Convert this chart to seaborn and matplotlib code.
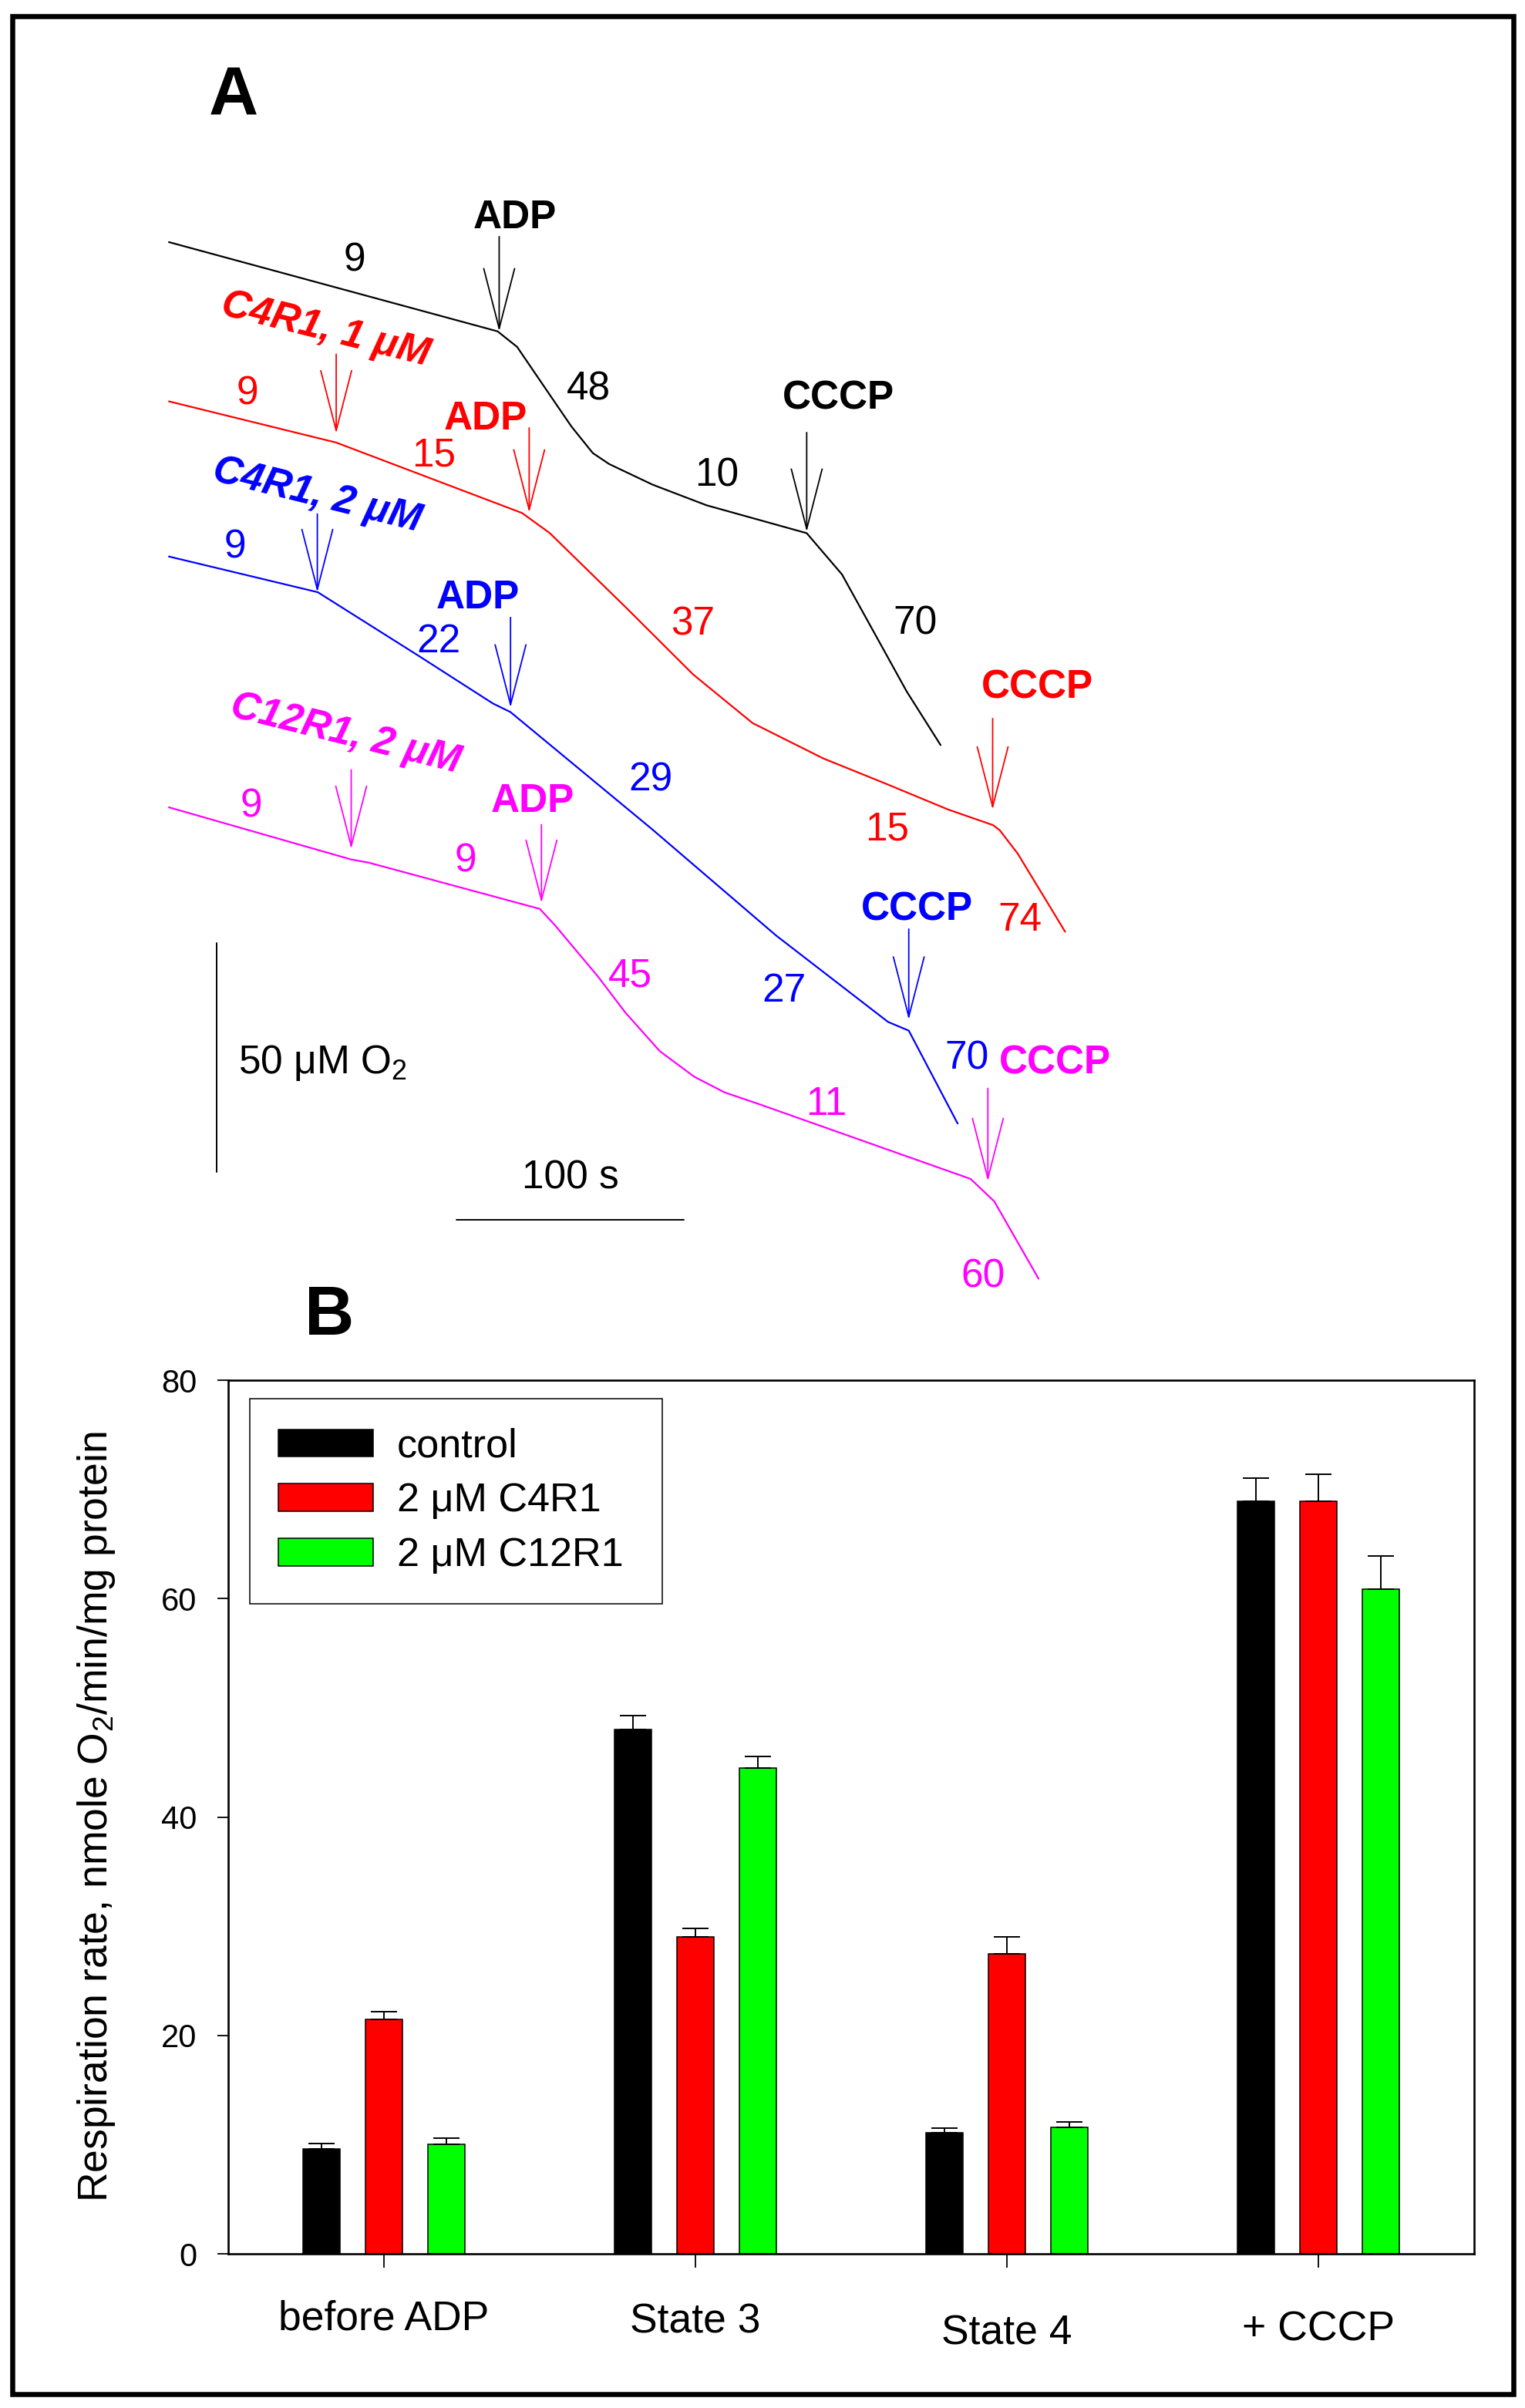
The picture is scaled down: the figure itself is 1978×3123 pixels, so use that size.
import matplotlib
matplotlib.use('Agg')
import matplotlib.pyplot as plt
from matplotlib.patches import Patch, Rectangle
import pandas as pd
import seaborn as sns

# Panel A: oxygen traces, time in s and O2 in uM (traces offset for display)
black_t = [0, 144.6, 153.2, 167.6, 177.1, 186.5, 193.7, 212.8, 236.5, 280.6, 296.1, 324.6, 339.5]
black_o = [215.6, 196.1, 192.7, 182.2, 175.3, 169.5, 167.1, 162.6, 158.1, 152.0, 143.0, 117.4, 105.7]
red_t = [0, 73.6, 155.4, 167.6, 201.4, 230.7, 256.8, 287.8, 315.7, 342.9, 362.6, 365.5, 373.4, 394.3]
red_o = [180.8, 171.8, 156.4, 152.0, 135.6, 121.1, 110.5, 102.8, 97.2, 91.6, 88.2, 87.1, 82.0, 64.9]
blue_t = [0, 65.5, 110.5, 142.5, 150.3, 212.6, 267.1, 316.4, 325.5, 347.0]
blue_o = [146.9, 139.1, 125.0, 114.8, 112.9, 87.3, 64.1, 45.2, 43.3, 23.0]
pink_t = [0, 80.2, 88.0, 163.2, 169.9, 188.8, 200.9, 216.0, 231.2, 244.5, 259.3, 352.7, 363.1, 382.6]
pink_o = [92.1, 80.7, 80.0, 69.9, 66.3, 55.1, 47.2, 38.8, 33.2, 29.8, 27.3, 10.9, 6.0, -10.9]

# respiration rates written next to the traces
black_rates = ['9', '48', '10', '70']
red_rates = ['9', '15', '37', '15', '74']
blue_rates = ['9', '22', '29', '27', '70']
pink_rates = ['9', '9', '45', '11', '60']

# additions: name, time of addition
black_events = [('ADP', 145.3), ('CCCP', 280.6)]
red_events = [('C4R1, 1 μM', 73.6), ('ADP', 158.5), ('CCCP', 362.4)]
blue_events = [('C4R1, 2 μM', 65.3), ('ADP', 150.3), ('CCCP', 325.5)]
pink_events = [('C12R1, 2 μM', 80.2), ('ADP', 163.9), ('CCCP', 360.3)]

# Panel B: mean respiration rates and SEM
states = ['before ADP', 'State 3', 'State 4', '+ CCCP']
treatments = ['control', '2 μM C4R1', '2 μM C12R1']
rate_control = [9.6, 48.0, 11.1, 68.9]
rate_c4r1 = [21.5, 29.0, 27.5, 68.9]
rate_c12r1 = [10.0, 44.5, 11.6, 60.9]
sem_control = [0.5, 1.3, 0.4, 2.1]
sem_c4r1 = [0.65, 0.8, 1.5, 2.5]
sem_c12r1 = [0.57, 1.05, 0.45, 3.0]

# layout for panel A annotations (same units as the traces)
rate_pos = {
    'black': [(81.7, 209.2), (184.5, 181.2), (241.1, 162.2), (328.2, 129.9)],
    'red': [(34.5, 180.2), (116.4, 166.7), (230.6, 129.8), (316.0, 84.9), (374.3, 65.2)],
    'blue': [(29.1, 146.6), (118.8, 125.9), (211.9, 95.8), (270.6, 49.6), (351.2, 34.9)],
    'pink': [(36.3, 90.0), (130.4, 78.1), (202.8, 53.0), (289.1, 24.9), (358.3, -12.8)],
}
# arrow tip, arrow top, label x, label y
event_pos = {
    'black': [(196.1, 216.8, 152.1, 218.6), (152.3, 174.0, 294.4, 179.1)],
    'red': [(173.8, 191.1, 68.9, 196.4), (156.5, 175.0, 139.3, 174.6), (91.6, 111.5, 381.9, 116.0)],
    'blue': [(139.1, 156.2, 65.3, 160.3), (113.9, 133.6, 136.0, 135.5), (45.7, 65.5, 329.0, 67.4)],
    'pink': [(83.0, 100.3, 77.6, 108.1), (71.2, 88.3, 160.1, 91.1), (10.4, 30.7, 389.9, 33.9)],
}

sns.set_style('white')
plt.rcParams['font.family'] = ['Liberation Sans', 'DejaVu Sans']
plt.rcParams.update({
    'mathtext.fontset': 'custom',
    'mathtext.rm': 'Liberation Sans',
    'mathtext.it': 'Liberation Sans:italic',
    'mathtext.bf': 'Liberation Sans:bold',
    'text.color': 'black',
    'axes.labelcolor': 'black',
    'axes.edgecolor': 'black',
    'xtick.color': 'black',
    'ytick.color': 'black',
})

FS = 37
colors_a = {'black': 'black', 'red': '#ff0000', 'blue': '#0000ff', 'pink': '#ff00ff'}

fig = plt.figure(figsize=(19.78, 31.23), dpi=100)

# ---- Panel A ----
axA = fig.add_axes([0, 0.4515, 1, 0.5485])
traces = {
    'black': (black_t, black_o, black_rates, black_events),
    'red': (red_t, red_o, red_rates, red_events),
    'blue': (blue_t, blue_o, blue_rates, blue_events),
    'pink': (pink_t, pink_o, pink_rates, pink_events),
}
for key, (t, o, rates, events) in traces.items():
    c = colors_a[key]
    sns.lineplot(x=t, y=o, sort=False, estimator=None, color=c, linewidth=1.6, ax=axA)
    for txt, (x, y) in zip(rates, rate_pos[key]):
        axA.text(x, y, txt, color=c, fontsize=FS, ha='center', va='baseline')
    for (name, te), (tip, top, lx, ly) in zip(events, event_pos[key]):
        axA.annotate('', xy=(te, tip), xytext=(te, top),
                     arrowprops=dict(arrowstyle='->,head_length=2.8,head_width=0.72',
                                     color=c, lw=1.3, shrinkA=0, shrinkB=0,
                                     mutation_scale=20))
        if 'μM' in name:
            axA.text(lx, ly, name, color=c, fontsize=FS, fontweight='bold',
                     fontstyle='italic', rotation=-14, rotation_mode='anchor',
                     ha='center', va='center')
        else:
            axA.text(lx, ly, name, color=c, fontsize=FS, fontweight='bold',
                     ha='center', va='baseline')

# scale bars: 50 uM O2 and 100 s
bar_o0, bar_do = 12.4, 50
bar_t0, bar_dt = 126.4, 100
axA.plot([20.9, 20.9], [bar_o0, bar_o0 + bar_do], color='black', lw=1.4)
axA.plot([bar_t0, bar_t0 + bar_dt], [2.0, 2.0], color='black', lw=1.4)
axA.text(30.5, 33.9, '50 μM O$_2$', fontsize=FS, ha='left', va='baseline')
axA.text(176.8, 8.8, '100 s', fontsize=FS, ha='center', va='baseline')

axA.set_xlim(-74.3, 596.6)
axA.set_ylim(-20.1, 268.5)
axA.axis('off')

# ---- Panel B ----
axB = fig.add_axes([0.14965, 0.06404, 0.81699, 0.36279])
df = pd.DataFrame({
    'state': states * 3,
    'treatment': [tr for tr in treatments for _ in states],
    'rate': rate_control + rate_c4r1 + rate_c12r1,
})
colors_b = ['black', '#ff0000', '#00ff00']
sns.barplot(data=df, x='state', y='rate', hue='treatment', order=states,
            hue_order=treatments, palette=colors_b, saturation=1, width=0.6,
            gap=0.4, edgecolor='black', linewidth=1.1, errorbar=None,
            legend=False, ax=axB)

sems = [sem_control, sem_c4r1, sem_c12r1]
for cont, err in zip(axB.containers, sems):
    xs = [b.get_x() + b.get_width() / 2 for b in cont]
    ys = [b.get_height() for b in cont]
    axB.errorbar(xs, ys, yerr=[[0] * len(err), err], fmt='none', ecolor='black',
                 elinewidth=1.4, capsize=12, capthick=1.4, zorder=3)

axB.set_xlim(-0.5, 3.5)
axB.set_ylim(0, 80)
axB.set_yticks([0, 20, 40, 60, 80])
axB.set_xlabel('')
axB.set_ylabel('Respiration rate, nmole O$_2$/min/mg protein', fontsize=38.5)
axB.yaxis.set_label_coords(-0.0893, 0.5)
for sp in axB.spines.values():
    sp.set_visible(True)
    sp.set_linewidth(1.9)
    sp.set_color('black')
axB.tick_params(axis='y', left=True, right=False, direction='out', length=10,
                width=1.3, pad=19, labelsize=30)
axB.tick_params(axis='x', bottom=True, top=False, direction='out', length=13,
                width=1.3, pad=30, labelsize=38.5)
for lbl, dy in zip(axB.get_xticklabels(), [0, 0.0035, 0.0168, 0.0124]):
    lbl.set_y(-dy)

handles = [Patch(facecolor=c, edgecolor='black', linewidth=1.1) for c in colors_b]
leg = axB.legend(handles, treatments, loc='upper left',
                 bbox_to_anchor=(0.0173, 0.7408, 0.3313, 0.238), mode='expand',
                 borderaxespad=0, fontsize=37.5, handlelength=2.36,
                 handleheight=0.67, handletextpad=0.58, labelspacing=0.42,
                 borderpad=0.72, frameon=True, fancybox=False, framealpha=1,
                 edgecolor='black')
leg.get_frame().set_linewidth(1.1)

# panel letters and outer frame
fig.text(0.1533, 0.952, 'A', fontsize=64, fontweight='bold', ha='center', va='baseline')
fig.text(0.2159, 0.4458, 'B', fontsize=64, fontweight='bold', ha='center', va='baseline')
fig.add_artist(Rectangle((0.008, 0.00586), 0.9842, 0.98742, transform=fig.transFigure,
                         fill=False, edgecolor='black', linewidth=4.7))

fig.savefig('out.png', dpi=100)
